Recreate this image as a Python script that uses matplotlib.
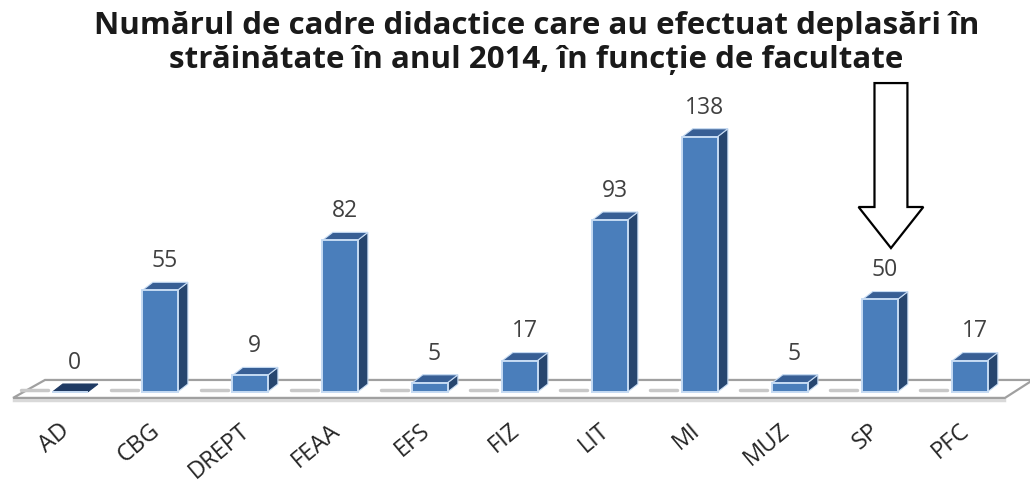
import matplotlib
matplotlib.use("Agg")
import matplotlib.pyplot as plt
from matplotlib.patches import Polygon

# Faculties and number of staff who travelled abroad in 2014
facultati = ["AD", "CBG", "DREPT", "FEAA", "EFS", "FIZ", "LIT", "MI", "MUZ", "SP", "PFC"]
deplasari = [0, 55, 9, 82, 5, 17, 93, 138, 5, 50, 17]
titlu = ("Numărul de cadre didactice care au efectuat deplasări în\n"
         "străinătate în anul 2014, în funcție de facultate")
evidentiat = "SP"

plt.rcParams["font.family"] = ["Open Sans", "DejaVu Sans"]

fig = plt.figure(figsize=(10.3, 4.83), dpi=100)
ax = fig.add_axes([0, 0, 1, 1])
ax.set_xlim(-0.778, 10.667)
ax.set_ylim(-49.2, 211.9)
ax.axis("off")

# pseudo-3D geometry (in data units)
w = 0.39      # front face width
dx = 0.115    # depth offset to the right
dy = 4.3      # depth offset upward

front_col = "#4a7ebb"
side_col = "#27466f"
top_col = "#385f95"
edge_col = "#c6dbf3"

# floor plate
n = len(facultati)
floor = Polygon([(-0.633, -3.2), (n - 0.611, -3.2), (n - 0.3, 6.5), (-0.278, 6.5)],
                closed=True, facecolor="white", edgecolor="#a0a0a0", lw=1.6, zorder=1)
ax.add_patch(floor)
ax.plot([-0.62, n - 0.62], [-4.6, -4.6], color="#d9d9d9", lw=2.5, zorder=0.9)
# soft shadows of the bars on the floor
for i in range(n):
    ax.plot([i - 0.55, i - 0.25], [1.2, 1.2], color="#c8c8c8", lw=2.5,
            solid_capstyle="round", zorder=1.1)

ax.bar(range(n), deplasari, width=w, bottom=0, color=front_col,
       edgecolor=edge_col, lw=1.4, zorder=3)

for i, v in enumerate(deplasari):
    x0, x1 = i - w / 2, i + w / 2
    side = Polygon([(x1, 0), (x1 + dx, dy), (x1 + dx, v + dy), (x1, v)],
                   closed=True, facecolor=side_col, edgecolor=edge_col, lw=0.8, zorder=2.5)
    top = Polygon([(x0, v), (x1, v), (x1 + dx, v + dy), (x0 + dx, v + dy)],
                  closed=True, facecolor=top_col if v > 0 else "#1f3a63",
                  edgecolor=edge_col if v > 0 else "#1f3a63", lw=0.8, zorder=2.6)
    ax.add_patch(side)
    ax.add_patch(top)
    ax.text(i + 0.05, v + dy + 5.0, str(v), ha="center", va="bottom",
            fontsize=16.5, color="#404040", zorder=5)
    ax.text(i - 0.12, -14.5, facultati[i], rotation=40, rotation_mode="anchor",
            ha="right", va="top", fontsize=17, color="#262626")

# hollow arrow pointing at the highlighted faculty
k = facultati.index(evidentiat)
vk = deplasari[k]
sh = 0.183
hw = 0.36
tip = vk + 27.8
neck = vk + 50
top_y = vk + 117
arrow = Polygon([(k + 0.122 - sh, top_y), (k + 0.122 + sh, top_y), (k + 0.122 + sh, neck),
                 (k + 0.122 + hw, neck), (k + 0.122, tip), (k + 0.122 - hw, neck),
                 (k + 0.122 - sh, neck)],
                closed=True, facecolor="white", edgecolor="black", lw=1.6, zorder=6)
ax.add_patch(arrow)

fig.text(0.521, 0.978, titlu, ha="center", va="top", fontsize=22.5, fontweight="bold",
         color="#1a1a1a", linespacing=1.2)

fig.savefig("out.png", dpi=100, facecolor="white")
